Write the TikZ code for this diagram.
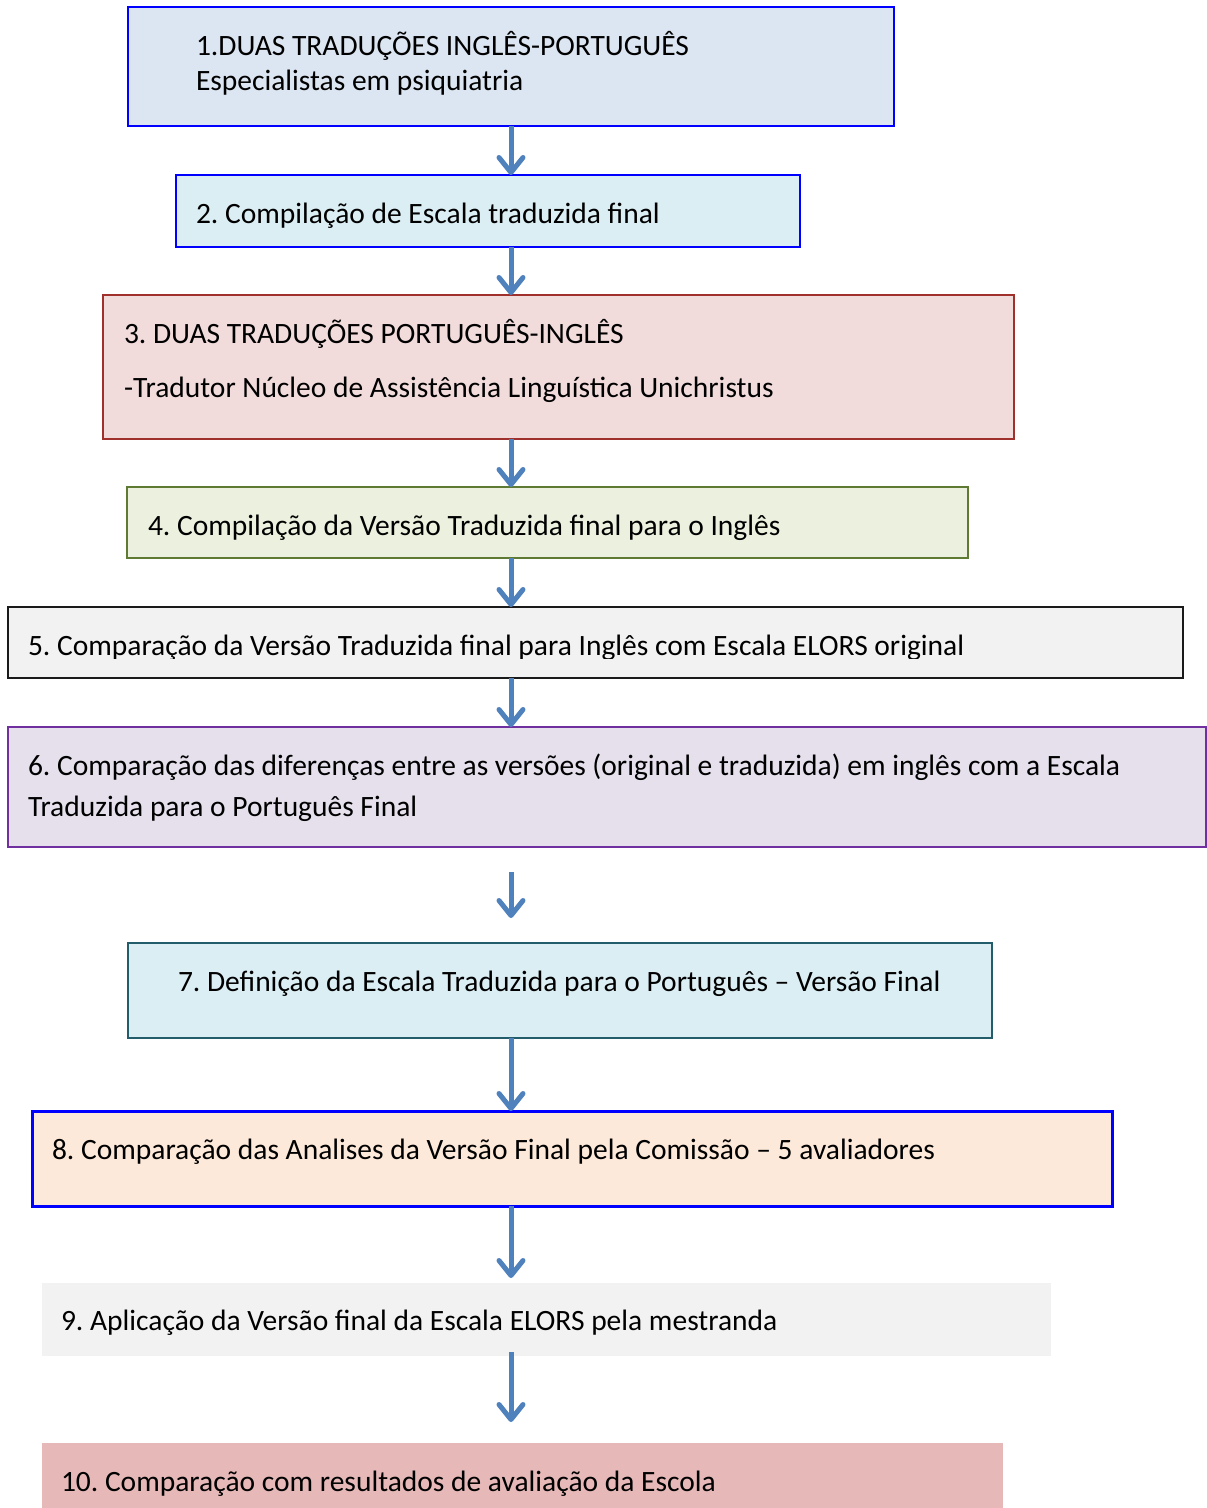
\documentclass[tikz,border=0pt]{standalone}
\usepackage{fontspec}
\setmainfont{Carlito}
\usetikzlibrary{arrows.meta}
\definecolor{bxblue}{HTML}{0000FF}
\definecolor{fillA}{HTML}{DCE6F2}
\definecolor{fillB}{HTML}{DBEEF4}
\definecolor{fillC}{HTML}{F2DCDB}
\definecolor{lineC}{HTML}{A0302C}
\definecolor{fillD}{HTML}{EBF1DE}
\definecolor{lineD}{HTML}{5F7A32}
\definecolor{fillE}{HTML}{F2F2F2}
\definecolor{lineE}{HTML}{1A1A1A}
\definecolor{fillF}{HTML}{E5E0EC}
\definecolor{lineF}{HTML}{7030A0}
\definecolor{lineG}{HTML}{235C6A}
\definecolor{fillH}{HTML}{FDE9D9}
\definecolor{fillJ}{HTML}{E6B9B8}
\definecolor{arrowblue}{HTML}{4F81BD}
\tikzset{
  stepbox/.style={rectangle, anchor=north west, inner sep=0pt, outer sep=0pt},
  steptext/.style={anchor=base west, inner sep=0pt, outer sep=0pt,
    font=\fontsize{29.5}{36}\selectfont\frenchspacing},
  flowarrow/.style={draw=arrowblue, line width=5pt,
    -{Straight Barb[length=15pt,width=24pt,line width=5pt,line cap=round,line join=round]}},
}
\begin{document}
\begin{tikzpicture}[x=1pt,y=-1pt]
\useasboundingbox (0,0) rectangle (1207,1508);

% boxes
\node[stepbox, fill=fillA, draw=bxblue, line width=1.8pt, minimum width=766pt, minimum height=119pt] (b1) at (128,7) {};
\node[stepbox, fill=fillB, draw=bxblue, line width=1.8pt, minimum width=624pt, minimum height=72pt] (b2) at (176,175) {};
\node[stepbox, fill=fillC, draw=lineC, line width=2pt, minimum width=911pt, minimum height=144pt] (b3) at (103,295) {};
\node[stepbox, fill=fillD, draw=lineD, line width=2pt, minimum width=841pt, minimum height=71pt] (b4) at (127,487) {};
\node[stepbox, fill=fillE, draw=lineE, line width=2pt, minimum width=1175pt, minimum height=71pt] (b5) at (8,607) {};
\node[stepbox, fill=fillF, draw=lineF, line width=2pt, minimum width=1198pt, minimum height=120pt] (b6) at (8,727) {};
\node[stepbox, fill=fillB, draw=lineG, line width=2.4pt, minimum width=864pt, minimum height=95pt] (b7) at (128,943) {};
\node[stepbox, fill=fillH, draw=bxblue, line width=3pt, minimum width=1080pt, minimum height=95pt] (b8) at (32,1111) {};
\node[stepbox, fill=fillE, minimum width=1009pt, minimum height=73pt] (b9) at (42,1283) {};
\node[stepbox, fill=fillJ, minimum width=961pt, minimum height=70pt] (b10) at (42,1443) {};

% texts
\node[steptext] (t1a) at (196,55) {1.DUAS TRADUÇÕES INGLÊS-PORTUGUÊS};
\node[steptext] (t1b) at (196,90) {Especialistas em psiquiatria};
\node[steptext] (t2) at (196,223) {2. Compilação de Escala traduzida final};
\node[steptext] (t3a) at (124,343) {3. DUAS TRADUÇÕES PORTUGUÊS-INGLÊS};
\node[steptext] (t3b) at (124,397) {-Tradutor Núcleo de Assistência Linguística Unichristus};
\node[steptext] (t4) at (148,535) {4. Compilação da Versão Traduzida final para o Inglês};
\begin{scope}
  \clip (0,600) rectangle (1207,658.5);
  \node[steptext] (t5) at (28,655) {5. Comparação da Versão Traduzida final para Inglês com Escala ELORS original};
\end{scope}
\node[steptext] (t6a) at (28,775) {6. Comparação das diferenças entre as versões (original e traduzida) em inglês com a Escala};
\node[steptext] (t6b) at (28,816) {Traduzida para o Português Final};
\node[steptext] (t7) at (178,991) {7. Definição da Escala Traduzida para o Português – Versão Final};
\node[steptext] (t8) at (52,1159) {8. Comparação das Analises da Versão Final pela Comissão – 5 avaliadores};
\node[steptext] (t9) at (61,1330) {9. Aplicação da Versão final da Escala ELORS pela mestranda};
\node[steptext] (t10) at (61,1491) {10. Comparação com resultados de avaliação da Escola};

% connectors
\coordinate (ax) at (511,0);
\coordinate (gapTop) at (511,872);
\coordinate (gapEnd) at (511,918);
\draw[flowarrow] (b1.south -| ax) -- (b2.north -| ax);
\draw[flowarrow] (b2.south -| ax) -- (b3.north -| ax);
\draw[flowarrow] (b3.south -| ax) -- (b4.north -| ax);
\draw[flowarrow] (b4.south -| ax) -- (b5.north -| ax);
\draw[flowarrow] (b5.south -| ax) -- (b6.north -| ax);
\draw[flowarrow] (gapTop) -- (gapEnd);
\draw[flowarrow] (b7.south -| ax) -- (b8.north -| ax);
\draw[flowarrow] (b8.south -| ax) -- ([yshift=5pt]b9.north -| ax);
\draw[flowarrow] ([yshift=4pt]b9.south -| ax) -- ([yshift=21pt]b10.north -| ax);
\end{tikzpicture}
\end{document}
